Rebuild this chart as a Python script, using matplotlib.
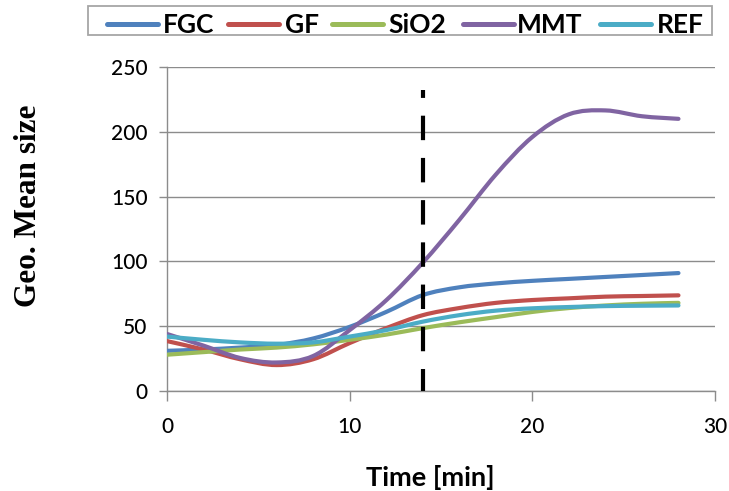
import numpy as np
import matplotlib
matplotlib.use("Agg")
import matplotlib.pyplot as plt
from matplotlib.path import Path
from matplotlib.patches import PathPatch, Rectangle
from matplotlib.lines import Line2D

plt.rcParams['lines.scale_dashes'] = False

# Geometric mean size over time for each additive
time_min = [0, 2, 4, 6, 8, 10, 12, 14, 16, 18, 20, 22, 24, 26, 28]
fgc = [31, 32, 33.5, 35.5, 40.5, 49.5, 61, 74, 80, 83, 85, 86.5, 88, 89.5, 91]
gf = [38.5, 32, 24.5, 20, 24.5, 37, 48.5, 58.5, 64, 68, 70.2, 71.5, 72.8, 73.3, 73.8]
sio2 = [28, 30, 32, 33.5, 36, 39.5, 43.5, 48.5, 53, 57, 61, 64, 66, 67.3, 68]
mmt = [44, 35, 25.5, 22, 27, 47, 70, 99, 132, 167, 196, 213.5, 216.5, 212, 210]
ref = [42, 39.5, 37.5, 36.5, 37.5, 42, 47, 53.5, 58.5, 62, 63.8, 64.8, 65.5, 65.8, 66]

series_names = ["FGC", "GF", "SiO2", "MMT", "REF"]
series_values = [fgc, gf, sio2, mmt, ref]
series_colors = ["#4F81BD", "#C0504D", "#9BBB59", "#8064A2", "#4BACC6"]

marker_time = 14
marker_top = 232

x_ticks = [0, 10, 20, 30]
y_ticks = [0, 50, 100, 150, 200, 250]


def smooth_path(x, y):
    """Smoothed line through the points as cubic Bezier segments."""
    pts = np.column_stack([x, y]).astype(float)
    ext = np.vstack([pts[0], pts, pts[-1]])
    verts = [pts[0]]
    codes = [Path.MOVETO]
    for i in range(len(pts) - 1):
        p0, p1, p2, p3 = ext[i], ext[i + 1], ext[i + 2], ext[i + 3]
        verts += [p1 + (p2 - p0) / 6.0, p2 - (p3 - p1) / 6.0, p2]
        codes += [Path.CURVE4] * 3
    return Path(verts, codes)


W, H = 729, 491
fig = plt.figure(figsize=(W / 100, H / 100), dpi=100)
ax = fig.add_axes([167 / W, 1 - 391 / H, 548 / W, 324 / H])

grid_col = "#8c8c8c"
ax.set_xlim(0, 30)
ax.set_ylim(0, 250)
ax.set_xticks(x_ticks)
ax.set_yticks(y_ticks)
ax.yaxis.grid(True, color=grid_col, lw=1.0)
ax.set_axisbelow(True)
for s in ("top", "right"):
    ax.spines[s].set_visible(False)
for s in ("left", "bottom"):
    ax.spines[s].set_color(grid_col)
    ax.spines[s].set_linewidth(1.0)
ax.tick_params(axis="y", direction="out", length=6, width=1.0, color=grid_col, pad=8)
ax.tick_params(axis="x", direction="out", length=7, width=1.0, color=grid_col, pad=12)
for lab in ax.get_xticklabels() + ax.get_yticklabels():
    lab.set_fontfamily("Lato")
    lab.set_fontweight("medium")
    lab.set_fontsize(15)
    lab.set_color("black")

for name, vals, col in zip(series_names, series_values, series_colors):
    patch = PathPatch(smooth_path(time_min, vals), fill=False, edgecolor=col,
                      lw=3.0, capstyle="round", joinstyle="round", zorder=3)
    ax.add_patch(patch)

ax.plot([marker_time, marker_time], [marker_top, 0], color="black", lw=3.0,
        linestyle=(11.9, (17.6, 12.8)), solid_capstyle="butt",
        dash_capstyle="butt", zorder=5, clip_on=False)

# axis titles
fig.text(28 / W, 1 - 206 / H, "Geo. Mean size", rotation=90, ha="center",
         va="center", family="Liberation Serif", fontweight="bold", fontsize=22.5)
fig.text(430 / W, 1 - 486 / H, "Time [min]", ha="center", va="baseline",
         family="Lato", fontweight="bold", fontsize=19.5)

# legend box across the top
fig.add_artist(Rectangle((88 / W, 1 - 35 / H), (712 - 88) / W, 29 / H,
                         transform=fig.transFigure, fill=False,
                         edgecolor="#a6a6a6", lw=1.3))
handle_x = [107, 228, 332, 463, 600]
text_x = [163, 285, 388, 517, 657]
for name, col, hx, tx in zip(series_names, series_colors, handle_x, text_x):
    fig.add_artist(Line2D([hx / W, (hx + 51) / W], [1 - 24 / H, 1 - 24 / H],
                          transform=fig.transFigure, color=col, lw=3.6,
                          solid_capstyle="round"))
    fig.text(tx / W, 1 - 33.3 / H, name, ha="left", va="baseline",
             family="Lato", fontweight="bold", fontsize=19)

fig.savefig("out.png", dpi=100)
